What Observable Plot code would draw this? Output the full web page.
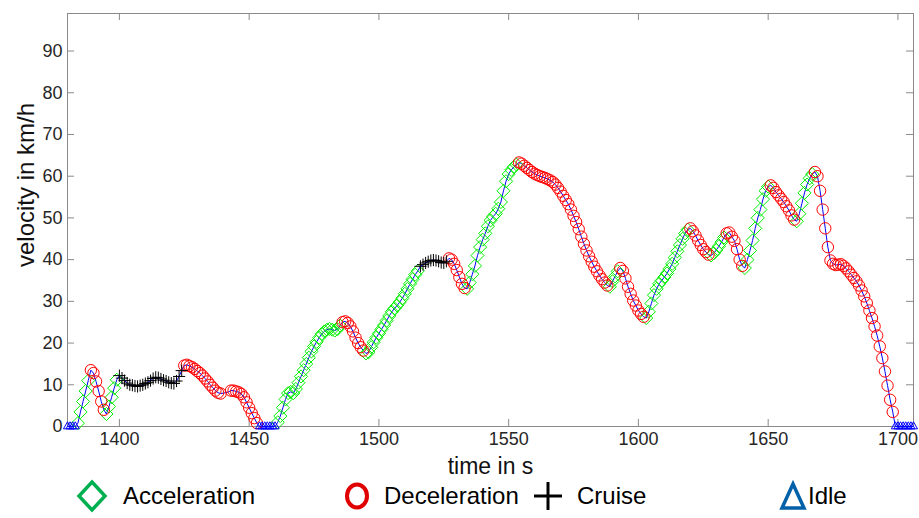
<!DOCTYPE html>
<html><head><meta charset="utf-8">
<script src="https://cdn.jsdelivr.net/npm/d3@7"></script>
<script src="https://cdn.jsdelivr.net/npm/@observablehq/plot@0.6"></script>
<style>
body{margin:0;background:#fff;font-family:"Liberation Sans",Arial,sans-serif;}
#wrap{position:relative;width:919px;height:518px;overflow:hidden;}
.sym{position:absolute;}
.lab{position:absolute;font-size:24px;color:#000;white-space:nowrap;line-height:28px;}
</style></head><body>
<div id="wrap"><div id="chart"></div></div>
<script>
// sampling start (s), one sample per second
const startTime = 1380;
// velocity in km/h, 1380 s … 1706 s (rows of 10 s)
const velocity = [
  0,0,0,0,0.8,3.5,6,8.5,11,13.5,
  12.8,10.8,8.5,6,4,3,4.8,7,9.2,11.2,
  12.2,11.6,11,10.4,10,9.9,9.7,9.6,9.8,10,
  10.3,10.6,11,11.5,11.8,11.7,11.4,11.1,10.9,10.6,
  10.4,10.3,10.9,12,13.4,14.6,14.8,14.5,14.2,13.8,
  13.3,12.8,12.2,11.5,10.8,10,9.3,8.6,8.1,7.9,
  8,8.1,8.3,8.6,8.6,8.4,8.2,7.8,7,5.8,
  4.5,3.2,2,0.8,0,0,0,0,0,0,
  0,1,2.5,4.5,6.5,8,8.3,8,9,10.5,
  12,13.5,15,16.5,18,19.2,20.3,21.3,22.2,22.8,
  23.2,23.4,23.2,23,23.3,24.2,25,25.2,24.8,24,
  22.8,21.3,20,19,18.2,17.5,17.8,19,20.2,21.3,
  22.3,23.3,24.3,25.4,26.5,27.5,28.3,29,29.8,30.7,
  31.8,33,34.2,35.3,36.4,37.3,38.4,38.8,39.2,39.5,
  39.8,39.9,39.8,39.6,39.3,39.2,39.6,40.3,40,39,
  37.5,35.8,34.2,33.2,33,34.5,36.5,38.5,41,43,
  44.8,46.3,48,49.4,50.3,51,52.2,53.8,56.5,58.8,
  60.5,61.5,62.2,62.8,63.3,63,62.5,62,61.5,61,
  60.6,60.3,60,59.8,59.6,59.3,59,58.6,58,57.2,
  56.3,55.3,54.3,53.3,52,50.5,49,47.3,45.5,43.8,
  42.2,40.8,39.5,38.3,37.2,36.2,35.3,34.5,33.8,33.5,
  34.8,36,37.2,38,37.3,35.5,33.5,31.8,30.2,29,
  27.8,27,26.3,26,27.5,29.5,31.5,33,34.2,35,
  35.8,36.7,37.8,39,40.5,42,43.5,45,46.3,47.2,
  47.5,46.8,45.8,44.6,43.5,42.5,41.8,41.2,41,41.5,
  42.3,43.2,44.2,45.3,46.3,46.5,45.5,44.5,42.5,40,
  38.5,38,40,42.2,44.6,47.5,50,52,54.5,56.5,
  57.5,57.8,57.2,56.2,55.4,54.6,53.8,52.8,51.8,50.6,
  49.6,49.2,51,53.5,56,58,59.5,60.5,61,60,
  56.5,52,47.5,43,39.8,39,38.7,38.8,38.9,38.5,
  37.9,37.2,36.4,35.6,34.8,33.8,32.6,31.2,29.6,27.8,
  26,24,21.8,19.2,16.4,13.2,9.8,6.4,3.5,0,
  0,0,0,0,0,0,0
];
// driving mode per sample: A acceleration, D deceleration, C cruise, I idle, - unmarked
const modeRows = [
  "IIIIAAAAAD","DDDDDAAAAA","CCCCCCCCCC","CCCCCCCCCC","CCCCCDDDDD",
  "DDDDDDDDDD","---DDDDDDD","DDDDIIIIII","IAAAAAAAAA","AAAAAAAAAA",
  "AAAAAADDDD","DDDDDAAAAA","AAAAAAAAAA","AAAAAACCCC","CCCCCCCDDD",
  "DDDDAAAAAA","AAAAAAAAAA","AAAADDDDDD","DDDDDDDDDD","DDDDDDDDDD",
  "DDDDDDDDDA","AAADDDDDDD","DDDAAAAAAA","AAAAAAAAAA","DDDDDDDDAA",
  "AAAADDDDDD","DAAAAAAAAA","ADDDDDDDDD","DAAAAAAADD","DDDDDDDDDD",
  "DDDDDDDDDD","DDDDDDDDDI","IIIIIII"
];
const xTicks = [1400, 1450, 1500, 1550, 1600, 1650, 1700];
const yTicks = [0, 10, 20, 30, 40, 50, 60, 70, 80, 90];
const xDomain = [1380, 1706];
const yDomain = [0, 99];
const xLabel = "time in s";
const yLabel = "velocity in km/h";
const legendLabels = ["Acceleration", "Deceleration", "Cruise", "Idle"];

const modes = modeRows.join("");
const rows = velocity.map((v, i) => ({t: startTime + i, v, m: modes[i]}));
const byMode = m => rows.filter(d => d.m === m);

const W = 919, H = 482, mL = 67, mR = 6, mT = 13, mB = 56, tick = 7;
const fw = W - mL - mR, fh = H - mT - mB;
const axisGray = "#8a8a8a";

const chart = Plot.plot({
  width: W, height: H,
  marginLeft: mL, marginRight: mR, marginTop: mT, marginBottom: mB,
  style: {fontFamily: "'Liberation Sans', Arial, sans-serif", background: "white", overflow: "visible"},
  x: {domain: xDomain, label: null},
  y: {domain: yDomain, label: null},
  marks: [
    Plot.frame({stroke: axisGray}),
    // inward ticks on all four sides
    Plot.tickX(xTicks, {x: d => d, stroke: axisGray, insetTop: fh - tick}),
    Plot.tickX(xTicks, {x: d => d, stroke: axisGray, insetBottom: fh - tick}),
    Plot.tickY(yTicks, {y: d => d, stroke: axisGray, insetRight: fw - tick}),
    Plot.tickY(yTicks, {y: d => d, stroke: axisGray, insetLeft: fw - tick}),
    // tick labels
    Plot.axisX(xTicks, {anchor: "bottom", tickSize: 0, tickPadding: 6, fontSize: 18, fill: "#262626", tickFormat: d => `${d}`, label: null}),
    Plot.axisY(yTicks, {anchor: "left", tickSize: 0, tickPadding: 5, fontSize: 18, fill: "#262626", tickFormat: d => `${d}`, label: null}),
    Plot.line(rows, {x: "t", y: "v", stroke: "#0000ff", strokeWidth: 1}),
    Plot.dot(byMode("A"), {x: "t", y: "v", symbol: "diamond2", r: 5.9, stroke: "#00ee00", strokeWidth: 1}),
    Plot.dot(byMode("D"), {x: "t", y: "v", symbol: "circle", r: 5.7, stroke: "#ff0000", strokeWidth: 1}),
    Plot.dot(byMode("C"), {x: "t", y: "v", symbol: "plus", r: 4, stroke: "#000000", strokeWidth: 1}),
    Plot.dot(byMode("I"), {x: "t", y: "v", symbol: "triangle2", r: 3.9, stroke: "#0000ff", strokeWidth: 1}),
    Plot.text([yLabel], {frameAnchor: "left", textAnchor: "middle", rotate: -90, dx: -41, dy: -35, fontSize: 24, fill: "#111"}),
    Plot.text([xLabel], {frameAnchor: "bottom", textAnchor: "middle", dy: 47, fontSize: 23, fill: "#111"})
  ]
});
document.getElementById("chart").appendChild(chart);

// legend below the chart
const wrap = document.getElementById("wrap");
const cy = 496;
const items = [
  {sx: 92, tx: 123, svg: '<path d="M17,3 L30,17 L17,31 L4,17 Z" fill="none" stroke="#00b050" stroke-width="3.5"/>'},
  {sx: 357, tx: 384, svg: '<ellipse cx="17" cy="17" rx="10" ry="11.5" fill="none" stroke="#e00000" stroke-width="4"/>'},
  {sx: 548, tx: 577, svg: '<path d="M3,17 H31 M17,3 V31" stroke="#000" stroke-width="3"/>'},
  {sx: 793, tx: 808, svg: '<path d="M17,5 L28,29 L6,29 Z" fill="none" stroke="#0060a8" stroke-width="3.5"/>'}
];
items.forEach((it, i) => {
  const s = document.createElement("div");
  s.className = "sym";
  s.style.left = (it.sx - 17) + "px"; s.style.top = (cy - 17) + "px";
  s.innerHTML = `<svg width="34" height="34" viewBox="0 0 34 34">${it.svg}</svg>`;
  wrap.appendChild(s);
  const l = document.createElement("div");
  l.className = "lab";
  l.style.left = it.tx + "px"; l.style.top = (cy - 14) + "px";
  l.textContent = legendLabels[i];
  wrap.appendChild(l);
});
</script>
</body></html>
